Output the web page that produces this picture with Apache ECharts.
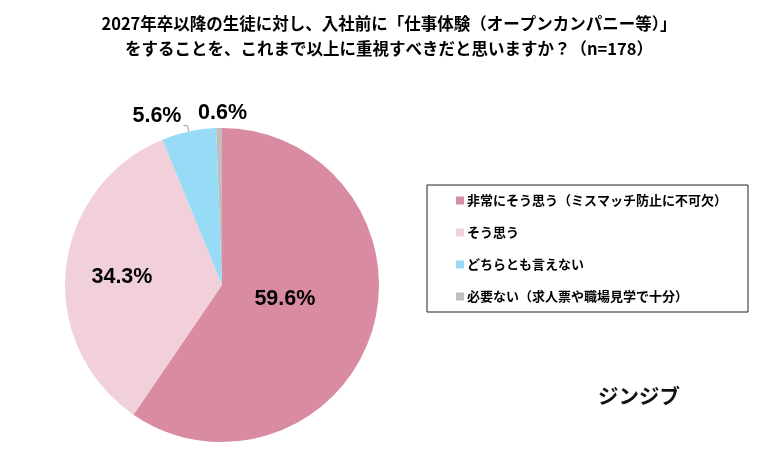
<!DOCTYPE html>
<html>
<head>
<meta charset="utf-8">
<script src="https://cdn.jsdelivr.net/npm/echarts@6/dist/echarts.min.js"></script>
<style>
  html, body { margin: 0; padding: 0; background: #fff; }
  #chart { width: 778px; height: 459px; }
</style>
</head>
<body>
<div id="chart"></div>
<script>
document.addEventListener('DOMContentLoaded', () => {
    // Answers and share of respondents (%)
    const categories = [
        '非常にそう思う（ミスマッチ防止に不可欠）',
        'そう思う',
        'どちらとも言えない',
        '必要ない（求人票や職場見学で十分）'
    ];
    const shares = [59.6, 34.3, 5.6, 0.6];
    const colors = ['#d98ba2', '#f1d0d9', '#98dbf6', '#bfbfbf'];

    const titleLines = [
        '2027年卒以降の生徒に対し、入社前に「仕事体験（オープンカンパニー等）」',
        'をすることを、これまで以上に重視すべきだと思いますか？（n=178）'
    ];

    const chart = echarts.init(document.getElementById('chart'));
    const jpFont = '"Noto Sans CJK JP", sans-serif';

    // label offsets for each slice so the percentages sit like in the original
    const labelShift = [[-15, -10], [-19, 1], [3, -10], [35, -13]];

    const option = {
        backgroundColor: '#fff',
        title: {
            text: titleLines.join('\n'),
            left: 'center',
            top: 6,
            textStyle: {
                fontFamily: jpFont,
                fontSize: 16.5,
                fontWeight: 'bold',
                color: '#000',
                lineHeight: 25
            }
        },
        legend: {
            orient: 'vertical',
            left: 427,
            top: 185,
            padding: [9, 21, 9, 29],
            itemGap: 19,
            itemWidth: 8,
            itemHeight: 8,
            icon: 'rect',
            borderColor: '#222',
            borderWidth: 1,
            textStyle: {
                fontFamily: jpFont,
                fontSize: 13,
                fontWeight: 'bold',
                color: '#000',
                padding: [0, 0, 0, -2]
            },
            data: categories
        },
        graphic: [{
            type: 'text',
            left: 598,
            top: 386,
            style: {
                text: 'ジンジブ',
                fontFamily: jpFont,
                fontSize: 20.5,
                fontWeight: 'bold',
                fill: '#111'
            }
        }],
        series: [{
            type: 'pie',
            center: [222, 285],
            radius: [0, 157],
            startAngle: 90,
            clockwise: true,
            avoidLabelOverlap: false,
            itemStyle: { borderWidth: 0 },
            label: {
                fontFamily: '"Liberation Sans", Arial, sans-serif',
                fontSize: 21.5,
                fontWeight: 'bold',
                color: '#000',
                formatter: p => p.value.toFixed(1) + '%'
            },
            labelLine: {
                lineStyle: { color: '#999', width: 1 }
            },
            labelLayout: params => ({
                dx: labelShift[params.dataIndex][0],
                dy: labelShift[params.dataIndex][1]
            }),
            emphasis: { disabled: true },
            data: categories.map((name, i) => ({
                name: name,
                value: shares[i],
                itemStyle: { color: colors[i] },
                label: { position: i < 2 ? 'inside' : 'outside' },
                labelLine: i === 2
                    ? { show: true, length: 6, length2: 4 }
                    : { show: false, length: 2, length2: 2 }
            }))
        }]
    };

    chart.setOption(option);
});
</script>
</body>
</html>
